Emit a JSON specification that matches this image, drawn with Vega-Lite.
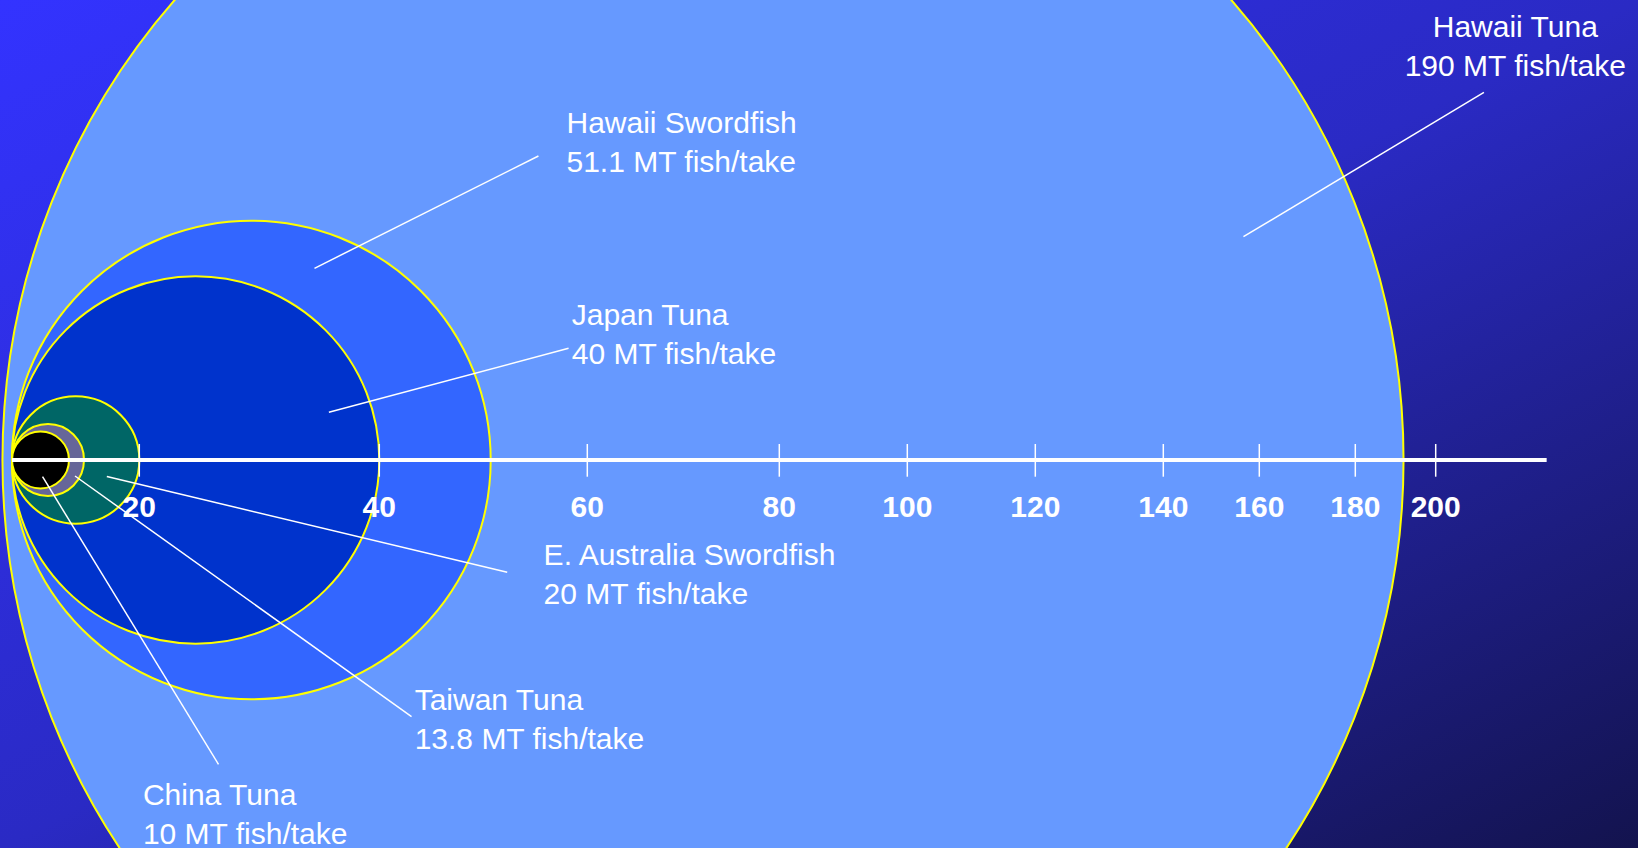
{
  "$schema": "https://vega.github.io/schema/vega-lite/v6.json",
  "width": 1638,
  "height": 848,
  "autosize": "none",
  "padding": 0,
  "background": "#1c1c7a",
  "config": {"view": {"stroke": null}, "text": {"font": "Liberation Sans"}},
  "layer": [
    {
      "data": {"values": [{}]},
      "mark": {
        "type": "rect",
        "fill": {
          "gradient": "linear",
          "x1": 0, "y1": 0, "x2": 1, "y2": 1,
          "stops": [
            {"offset": 0, "color": "#3333FF"},
            {"offset": 0.5, "color": "#2A2AC4"},
            {"offset": 1, "color": "#13134E"}
          ]
        }
      },
      "encoding": {}
    },
    {
      "data": {
        "values": [
          {"fishery": "Hawaii Tuna", "mt": 190},
          {"fishery": "Hawaii Swordfish", "mt": 51.1},
          {"fishery": "Japan Tuna", "mt": 40},
          {"fishery": "E. Australia Swordfish", "mt": 20},
          {"fishery": "Taiwan Tuna", "mt": 13.8},
          {"fishery": "China Tuna", "mt": 10}
        ]
      },
      "mark": {"type": "arc", "theta": 0, "theta2": 6.2832, "stroke": "#FFFF00", "strokeWidth": 2},
      "encoding": {
        "x": {"datum": 0, "type": "quantitative", "axis": null,
          "scale": {"type": "linear", "domain": [0, 20, 40, 60, 80, 100, 120, 140, 160, 180, 200], "range": [12, 139.3, 379.3, 587.3, 779.3, 907.3, 1035.3, 1163.3, 1259.3, 1355.3, 1435.7], "nice": false, "zero": false}},
        "xOffset": {
          "field": "mt", "type": "quantitative",
          "scale": {"type": "linear", "domain": [0, 10, 13.8, 20, 40, 51.1, 190], "range": [0, 28.5, 36, 63.65, 183.65, 239.35, 691], "nice": false, "zero": false}
        },
        "y": {
          "datum": 0, "type": "quantitative", "axis": null,
          "scale": {"domain": [-388, 460], "nice": false, "zero": false}
        },
        "radius": {
          "field": "mt", "type": "quantitative", "stack": null,
          "scale": {"type": "linear", "domain": [0, 10, 13.8, 20, 40, 51.1, 190], "range": [0, 28.5, 36, 63.65, 183.65, 239.35, 700.3], "zero": false, "nice": false}
        },
        "fill": {
          "field": "fishery", "type": "nominal", "legend": null,
          "scale": {
            "domain": ["Hawaii Tuna", "Hawaii Swordfish", "Japan Tuna", "E. Australia Swordfish", "Taiwan Tuna", "China Tuna"],
            "range": ["#6699FF", "#3366FF", "#0033CC", "#006666", "#666699", "#000000"]
          }
        }
      }
    },
    {
      "data": {"values": [{}]},
      "mark": {"type": "rule", "color": "#FFFFFF", "strokeWidth": 4},
      "encoding": {
        "x": {"datum": 0, "type": "quantitative", "axis": null,
          "scale": {"type": "linear", "domain": [0, 20, 40, 60, 80, 100, 120, 140, 160, 180, 200], "range": [12, 139.3, 379.3, 587.3, 779.3, 907.3, 1035.3, 1163.3, 1259.3, 1355.3, 1435.7], "nice": false, "zero": false}},
        "x2": {"datum": 227.6},
        "y": {"datum": 0, "type": "quantitative", "axis": null,
          "scale": {"domain": [-388, 460], "nice": false, "zero": false}}
      }
    },
    {
      "data": {"values": [{"v": 20}, {"v": 40}, {"v": 60}, {"v": 80}, {"v": 100}, {"v": 120}, {"v": 140}, {"v": 160}, {"v": 180}, {"v": 200}]},
      "mark": {"type": "rule", "color": "#FFFFFF", "strokeWidth": 1.5},
      "encoding": {
        "x": {"field": "v", "type": "quantitative", "axis": null,
          "scale": {"type": "linear", "domain": [0, 20, 40, 60, 80, 100, 120, 140, 160, 180, 200], "range": [12, 139.3, 379.3, 587.3, 779.3, 907.3, 1035.3, 1163.3, 1259.3, 1355.3, 1435.7], "nice": false, "zero": false}},
        "y": {"datum": 16, "type": "quantitative", "axis": null,
          "scale": {"domain": [-388, 460], "nice": false, "zero": false}},
        "y2": {"datum": -16.7}
      }
    },
    {
      "data": {"values": [{"v": 20}, {"v": 40}, {"v": 60}, {"v": 80}, {"v": 100}, {"v": 120}, {"v": 140}, {"v": 160}, {"v": 180}, {"v": 200}]},
      "mark": {"type": "text", "color": "#FFFFFF", "fontSize": 30, "fontWeight": "bold", "align": "center", "baseline": "alphabetic"},
      "encoding": {
        "x": {"field": "v", "type": "quantitative", "axis": null,
          "scale": {"type": "linear", "domain": [0, 20, 40, 60, 80, 100, 120, 140, 160, 180, 200], "range": [12, 139.3, 379.3, 587.3, 779.3, 907.3, 1035.3, 1163.3, 1259.3, 1355.3, 1435.7], "nice": false, "zero": false}},
        "y": {"datum": -57.3, "type": "quantitative", "axis": null,
          "scale": {"domain": [-388, 460], "nice": false, "zero": false}},
        "text": {"field": "v", "type": "quantitative", "format": "d"}
      }
    },
    {
      "data": {
        "values": [
          {"fishery": "Hawaii Tuna", "x1": 212.0, "y1": 367.7, "x2": 156.7, "y2": 223.3},
          {"fishery": "Hawaii Swordfish", "x1": 55.3, "y1": 304, "x2": 34.6, "y2": 191.7},
          {"fishery": "Japan Tuna", "x1": 58.2, "y1": 111.7, "x2": 35.8, "y2": 47.7},
          {"fishery": "E. Australia Swordfish", "x1": 52.3, "y1": -112.3, "x2": 14.9, "y2": -16.5},
          {"fishery": "Taiwan Tuna", "x1": 43.1, "y1": -256.7, "x2": 9.9, "y2": -16},
          {"fishery": "China Tuna", "x1": 26.6, "y1": -304.3, "x2": 4.8, "y2": -16.7}
        ]
      },
      "mark": {"type": "rule", "color": "#FFFFFF", "strokeWidth": 1.5},
      "encoding": {
        "x": {"field": "x1", "type": "quantitative", "axis": null,
          "scale": {"type": "linear", "domain": [0, 20, 40, 60, 80, 100, 120, 140, 160, 180, 200], "range": [12, 139.3, 379.3, 587.3, 779.3, 907.3, 1035.3, 1163.3, 1259.3, 1355.3, 1435.7], "nice": false, "zero": false}},
        "x2": {"field": "x2"},
        "y": {"field": "y1", "type": "quantitative", "axis": null,
          "scale": {"domain": [-388, 460], "nice": false, "zero": false}},
        "y2": {"field": "y2"}
      }
    },
    {
      "data": {
        "values": [
          {"fishery": "Hawaii Swordfish", "label": "Hawaii Swordfish\n51.1 MT fish/take", "x": 58.0, "y": 327.3},
          {"fishery": "Japan Tuna", "label": "Japan Tuna\n40 MT fish/take", "x": 58.5, "y": 135},
          {"fishery": "E. Australia Swordfish", "label": "E. Australia Swordfish\n20 MT fish/take", "x": 55.8, "y": -105},
          {"fishery": "Taiwan Tuna", "label": "Taiwan Tuna\n13.8 MT fish/take", "x": 43.4, "y": -250},
          {"fishery": "China Tuna", "label": "China Tuna\n10 MT fish/take", "x": 20.3, "y": -345}
        ]
      },
      "mark": {"type": "text", "color": "#FFFFFF", "fontSize": 30, "align": "left", "baseline": "alphabetic", "lineBreak": "\n", "lineHeight": 39},
      "encoding": {
        "x": {"field": "x", "type": "quantitative", "axis": null,
          "scale": {"type": "linear", "domain": [0, 20, 40, 60, 80, 100, 120, 140, 160, 180, 200], "range": [12, 139.3, 379.3, 587.3, 779.3, 907.3, 1035.3, 1163.3, 1259.3, 1355.3, 1435.7], "nice": false, "zero": false}},
        "y": {"field": "y", "type": "quantitative", "axis": null,
          "scale": {"domain": [-388, 460], "nice": false, "zero": false}},
        "text": {"field": "label"}
      }
    },
    {
      "data": {
        "values": [
          {"fishery": "Hawaii Tuna", "label": "Hawaii Tuna\n190 MT fish/take", "x": 219.8, "y": 423.3}
        ]
      },
      "mark": {"type": "text", "color": "#FFFFFF", "fontSize": 30, "align": "center", "baseline": "alphabetic", "lineBreak": "\n", "lineHeight": 39},
      "encoding": {
        "x": {"field": "x", "type": "quantitative", "axis": null,
          "scale": {"type": "linear", "domain": [0, 20, 40, 60, 80, 100, 120, 140, 160, 180, 200], "range": [12, 139.3, 379.3, 587.3, 779.3, 907.3, 1035.3, 1163.3, 1259.3, 1355.3, 1435.7], "nice": false, "zero": false}},
        "y": {"field": "y", "type": "quantitative", "axis": null,
          "scale": {"domain": [-388, 460], "nice": false, "zero": false}},
        "text": {"field": "label"}
      }
    }
  ]
}
